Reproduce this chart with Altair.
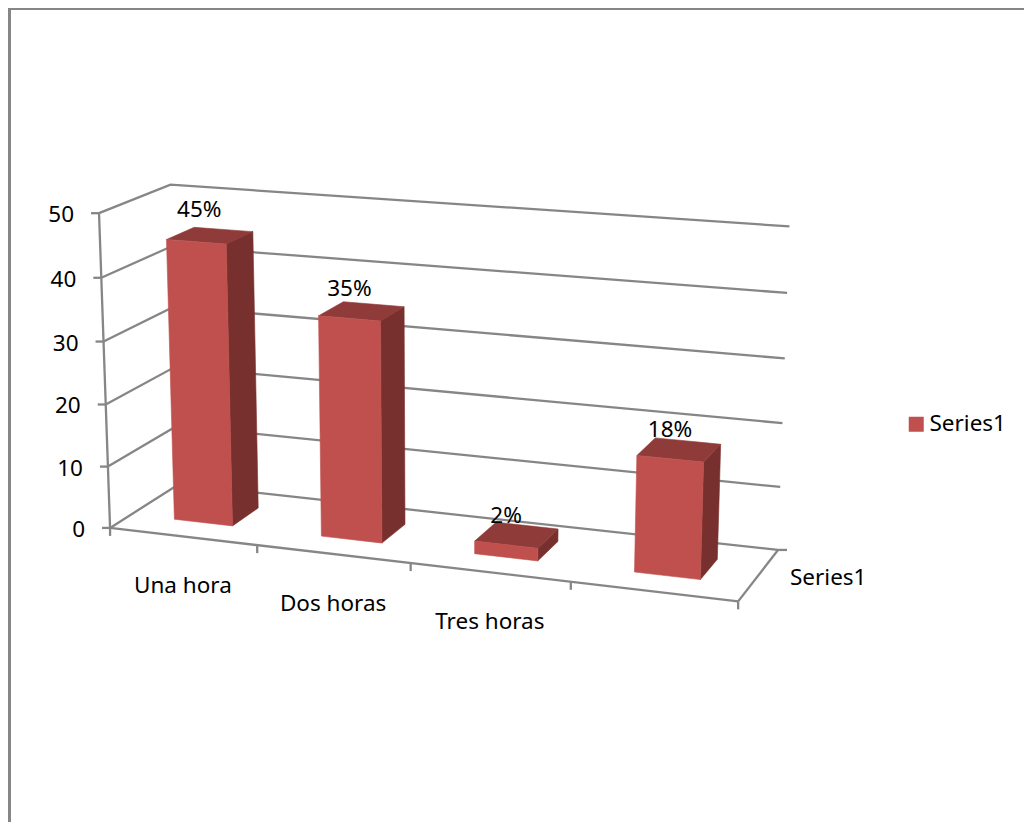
import altair as alt
import numpy as np
import pandas as pd

categories = ["Una hora", "Dos horas", "Tres horas", ""]
values = [45, 35, 2, 18]
value_labels = ["45%", "35%", "2%", "18%"]
series_name = "Series1"
value_ticks = [0, 10, 20, 30, 40, 50]

FRONT = "#C0504D"
TOP = "#8F3B39"
SIDE = "#78302E"
GRID = "#868686"
FONT = "Noto Sans"
FS = 22.5

# Camera calibration for the 3-D box: (category pos, value, depth) -> picture position
CAL = [
    (0, 0, 0, 110, 527), (1, 0, 0, 257, 545), (2, 0, 0, 410.5, 563.5), (3, 0, 0, 571, 582), (4, 0, 0, 737, 603),
    (0, 10, 0, 108, 467), (0, 20, 0, 106, 404), (0, 30, 0, 103.5, 342), (0, 40, 0, 100.5, 278), (0, 50, 0, 99, 213),
    (0, 50, 1, 170, 185), (0, 0, 1, 178, 484),
    (4, 50, 1, 790, 227), (4, 40, 1, 787, 293), (4, 30, 1, 785, 358), (4, 20, 1, 782, 423), (4, 10, 1, 780, 488), (4, 0, 1, 778, 550),
    (.3, 0, .3, 174, 519), (.7, 0, .3, 233, 526), (.7, 0, .7, 259, 508),
    (.3, 45, .3, 166.5, 240), (.7, 45, .3, 227, 244), (.7, 45, .7, 253, 232), (.3, 45, .7, 195, 227),
    (1.3, 0, .3, 321, 537), (1.7, 0, .3, 383, 543), (1.7, 0, .7, 406, 524),
    (1.3, 35, .3, 318, 316), (1.7, 35, .3, 381, 321), (1.7, 35, .7, 404, 306), (1.3, 35, .7, 342, 302),
    (3.3, 0, .3, 634, 572), (3.7, 0, .3, 701, 579), (3.7, 0, .7, 717, 560),
    (3.3, 18, .3, 637, 454), (3.7, 18, .3, 704, 461), (3.7, 18, .7, 721, 443), (3.3, 18, .7, 655, 438),
]


def _norm(u, v, w):
    return np.array([u / 4.0, v / 50.0, w, 1.0])


A = []
for u, v, w, x, y in CAL:
    p = _norm(u, v, w)
    x, y = x / 500.0, y / 500.0
    A.append(np.r_[p, np.zeros(4), -x * p])
    A.append(np.r_[np.zeros(4), p, -y * p])
P = np.linalg.svd(np.array(A))[2][-1].reshape(3, 4)


def proj(u, v, w):
    q = P @ _norm(u, v, w)
    return (500.0 * q[0] / q[2], 500.0 * q[1] / q[2])


def line_rows(name, pts):
    return [{"id": name, "i": i, "x": p[0], "y": p[1]} for i, p in enumerate(pts)]


def quad_rows(name, pts):
    """Convex polygon as a vertical-orient area: one row per vertex x."""
    n = len(pts)
    rows = []
    for i, x in enumerate(sorted(set(round(p[0], 3) for p in pts))):
        ys = []
        for k in range(n):
            (x0, y0), (x1, y1) = pts[k], pts[(k + 1) % n]
            lo, hi = min(x0, x1) - 1e-2, max(x0, x1) + 1e-2
            if lo <= x <= hi:
                if abs(x1 - x0) < 1e-6:
                    ys += [y0, y1]
                else:
                    ys.append(y0 + (y1 - y0) * (x - x0) / (x1 - x0))
        rows.append({"id": name, "i": i, "x": x, "y": min(ys), "y2": max(ys), "series": series_name})
    return rows


BW0, BW1, BD0, BD1 = 0.3, 0.7, 0.3, 0.7
front, top, side = [], [], []
for c, val in enumerate(values):
    a, b = c + BW0, c + BW1
    front += quad_rows(f"f{c}", [proj(a, 0, BD0), proj(b, 0, BD0), proj(b, val, BD0), proj(a, val, BD0)])
    top += quad_rows(f"t{c}", [proj(a, val, BD0), proj(b, val, BD0), proj(b, val, BD1), proj(a, val, BD1)])
    side += quad_rows(f"s{c}", [proj(b, 0, BD0), proj(b, 0, BD1), proj(b, val, BD1), proj(b, val, BD0)])

lines = []
for t in value_ticks:
    lines += line_rows(f"wall{t}", [proj(0, t, 0), proj(0, t, 1), proj(4, t, 1)])
    fx, fy = proj(0, t, 0)
    lines += line_rows(f"vt{t}", [(fx - 8, fy), (fx, fy)])
lines += line_rows("vaxis", [proj(0, 0, 0), proj(0, 50, 0)])
lines += line_rows("floorfront", [proj(0, 0, 0), proj(4, 0, 0)])
lines += line_rows("floorright", [proj(4, 0, 0), proj(4, 0, 1)])
bx, by = proj(4, 0, 1)
lines += line_rows("depthtick", [(bx, by), (bx + 9, by)])
for c in range(5):
    tx, ty = proj(c, 0, 0)
    lines += line_rows(f"ct{c}", [(tx, ty), (tx, ty + 8)])

frame = line_rows("frame", [(9.5, 830), (9.5, 8.5), (1032, 8.5)])

xs = alt.Scale(domain=[8, 1024], range=[0, 1016], nice=False, zero=False)
ys = alt.Scale(domain=[8, 822], range=[0, 814], nice=False, zero=False)
X = alt.X("x:Q", scale=xs, axis=None)
Y = alt.Y("y:Q", scale=ys, axis=None)


def line_layer(rows, width):
    return alt.Chart(pd.DataFrame(rows)).mark_line(color=GRID, strokeWidth=width, clip=False).encode(
        x=X, y=Y, detail="id:N", order="i:Q")


def area_layer(rows, color=None):
    enc = dict(x=X, y=Y, y2="y2:Q", detail="id:N")
    mark = dict(orient="vertical", strokeWidth=0.6)
    if color is None:
        return alt.Chart(pd.DataFrame(rows)).mark_area(stroke=FRONT, **mark).encode(
            color=alt.Color("series:N", scale=alt.Scale(domain=[series_name], range=[FRONT]),
                            legend=alt.Legend(title=None, orient="none", legendX=897, legendY=405,
                                              symbolType="square", symbolSize=225, symbolStrokeWidth=0,
                                              labelFont=FONT, labelFontSize=FS, labelColor="#000000",
                                              labelOffset=2)),
            **enc)
    return alt.Chart(pd.DataFrame(rows)).mark_area(color=color, stroke=color, **mark).encode(**enc)


def text_layer(rows, **kw):
    return alt.Chart(pd.DataFrame(rows)).mark_text(font=FONT, fontSize=FS, color="#000000", baseline="middle", **kw).encode(
        x=X, y=Y, text="label:N")


vlabels = [{"x": proj(0, t, 0)[0], "y": proj(0, t, 0)[1], "label": str(t)} for t in value_ticks]
clabels = [{"x": proj(c + .5, 0, 0)[0], "y": proj(c + .5, 0, 0)[1], "label": n}
           for c, n in enumerate(categories) if n]
plabels = [{"x": proj(c + .5, v, BD0)[0] + (3 if c == 0 else 0),
            "y": proj(c + .5, v, BD0)[1] - (3 if c == 0 else 0), "label": s}
           for c, (v, s) in enumerate(zip(values, value_labels))]
slabel = [{"x": bx, "y": by, "label": series_name}]

chart = alt.layer(
    line_layer(frame, 3),
    line_layer(lines, 2.3),
    area_layer(side, SIDE),
    area_layer(top, TOP),
    area_layer(front),
    text_layer(vlabels, align="right", dx=-25, dy=2),
    text_layer(clabels, align="center", dy=49.5),
    text_layer(plabels, align="center", dy=-29),
    text_layer(slabel, align="left", dx=12, dy=28),
).properties(width=1016, height=814, padding=0,
             autosize=alt.AutoSizeParams(type="none", contains="padding")).configure_view(stroke=None)

chart.save("out.html", embed_options={"renderer": "svg", "actions": False})
